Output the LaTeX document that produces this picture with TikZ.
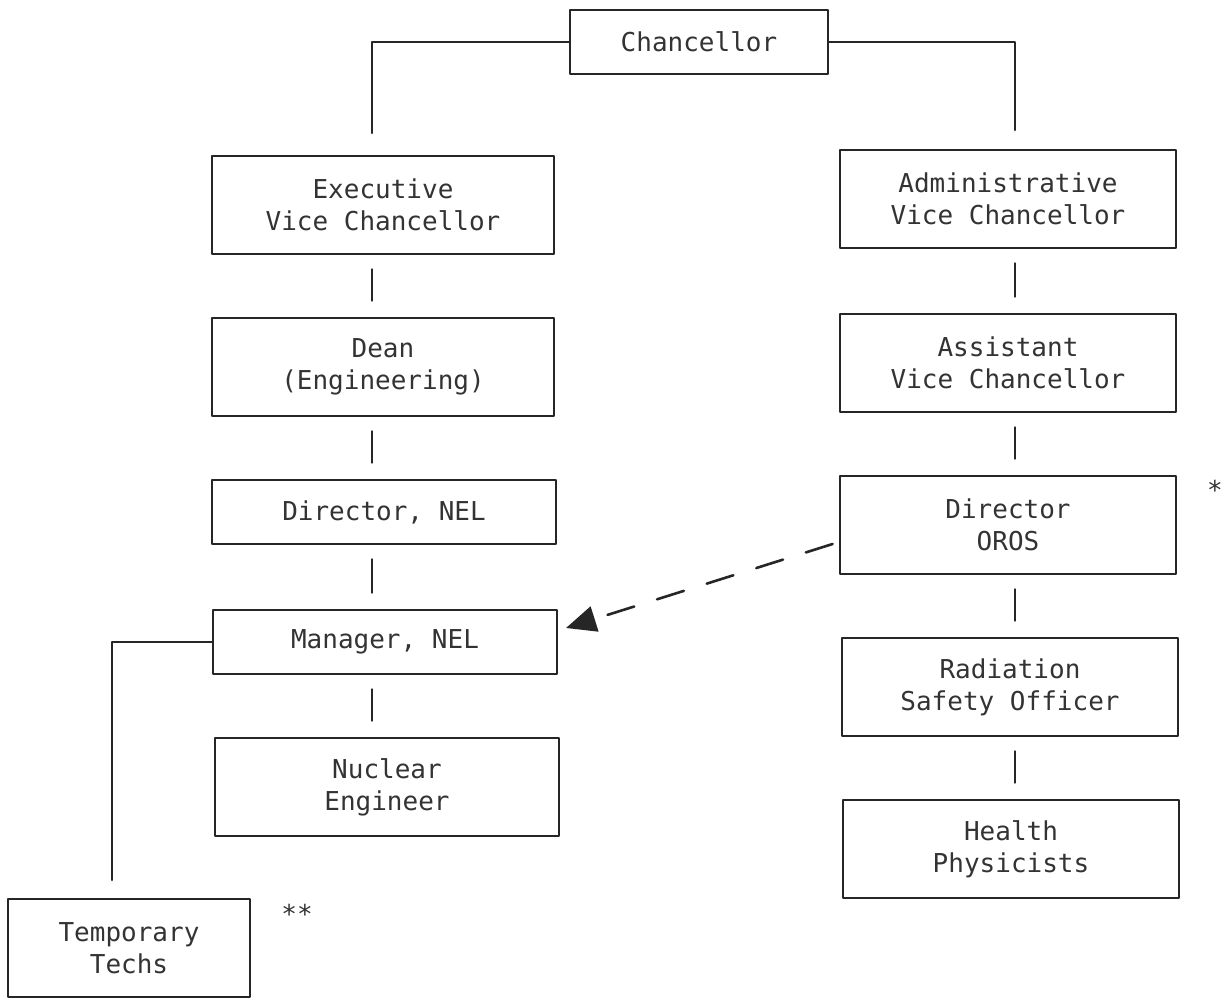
\documentclass[tikz,border=0pt]{standalone}
\usepackage{fontspec}
\newfontfamily\orgmono{DejaVu Sans Mono}
\usetikzlibrary{arrows.meta}
\begin{document}
\begin{tikzpicture}[x=0.5pt,y=-0.5pt,line join=round,line cap=round,
  font=\orgmono\fontsize{13}{16}\selectfont,
  orgbox/.style={draw=black!85,line width=1.4pt,inner sep=0pt,align=center,text=black!80,
    minimum width=171pt,minimum height=49pt},
  lowbox/.style={orgbox,minimum height=32pt},
  link/.style={draw=black!85,line width=1.3pt},
  gap/.style={link,shorten <=7pt,shorten >=8pt}]
\useasboundingbox (0,0) rectangle (1222,1000);
% top
\node[lowbox,minimum width=129pt] (chan) at (699,42) {Chancellor};
% left column
\node[orgbox] (exec) at (383,205) {Executive\\Vice Chancellor};
\node[orgbox] (dean) at (383,367) {Dean\\(Engineering)};
\node[lowbox,minimum width=172pt] (dirnel) at (384,512) {Director, NEL};
\node[lowbox,minimum width=172pt] (mannel) at (385,642) {Manager, NEL};
\node[orgbox,minimum width=172pt] (nuc) at (387,787) {Nuclear\\Engineer};
\node[orgbox,minimum width=121pt] (temp) at (129,948) {Temporary\\Techs};
% right column
\node[orgbox,minimum width=168pt] (admin) at (1008,199) {Administrative\\Vice Chancellor};
\node[orgbox,minimum width=168pt] (asst) at (1008,363) {Assistant\\Vice Chancellor};
\node[orgbox,minimum width=168pt] (oros) at (1008,525) {Director\\OROS};
\node[orgbox,minimum width=168pt] (rso) at (1010,687) {Radiation\\Safety Officer};
\node[orgbox,minimum width=168pt] (hp) at (1011,849) {Health\\Physicists};
\node[text=black!80] (star1) at (1215,490) {*};
\node[text=black!80] (star2) at (297,914) {**};
% connectors
\coordinate (lx) at (372,133);
\coordinate (rx) at (1015,130);
\coordinate (tx) at (112,880);
\coordinate (dtip) at (566,628);
\draw[link] (chan.west) -| (lx);
\draw[link] (chan.east) -| (rx);
\draw[gap] (exec.south -| lx) -- (dean.north -| lx);
\draw[gap] (dean.south -| lx) -- (dirnel.north -| lx);
\draw[gap] (dirnel.south -| lx) -- (mannel.north -| lx);
\draw[gap] (mannel.south -| lx) -- (nuc.north -| lx);
\draw[gap] (admin.south -| rx) -- (asst.north -| rx);
\draw[gap] (asst.south -| rx) -- (oros.north -| rx);
\draw[gap] (oros.south -| rx) -- (rso.north -| rx);
\draw[gap] (rso.south -| rx) -- (hp.north -| rx);
\draw[link] (mannel.west) -| (tx);
\draw[link,dash pattern=on 14pt off 12pt,-{Triangle[length=15pt,width=13pt]}]
  (oros.west) ++(-6,19) -- (dtip);
\end{tikzpicture}
\end{document}
